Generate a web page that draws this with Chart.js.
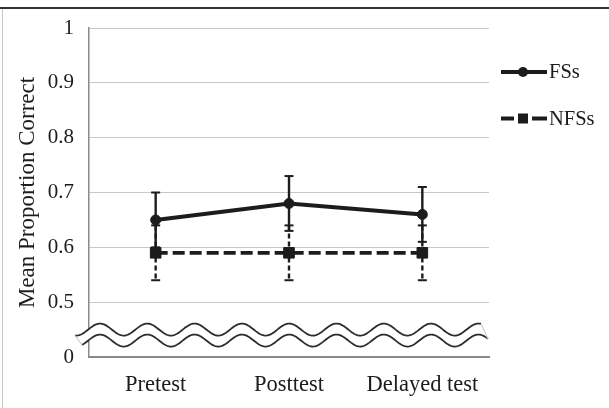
<!DOCTYPE html>
<html lang="en">
<head>
<meta charset="UTF-8">
<title>Mean Proportion Correct</title>
<script src="https://cdn.jsdelivr.net/npm/chart.js"></script>
<style>
    body { margin: 0; background: #fff; }
    .wrap { position: relative; width: 609px; height: 408px; overflow: hidden; }
    .topline { position: absolute; left: 0; right: 0; top: 7px; height: 2px; background: #333; }
    .leftline { position: absolute; left: 2px; top: 9px; bottom: 0; width: 1px; background: #c8c8c8; }
    canvas { position: absolute; left: 0; top: 0; }
</style>
</head>
<body>
<div class="wrap">
    <div class="topline"></div>
    <div class="leftline"></div>
    <canvas id="chart" width="609" height="408"></canvas>
</div>
<script>
    const tests = ['Pretest', 'Posttest', 'Delayed test'];
    const fsMeans = [0.65, 0.68, 0.66];
    const fsErr = [0.05, 0.05, 0.05];
    const nfsMeans = [0.59, 0.59, 0.59];
    const nfsErr = [0.05, 0.05, 0.05];
    const yTickValues = [0.4, 0.5, 0.6, 0.7, 0.8, 0.9, 1];
    const yTickLabels = ['0', '0.5', '0.6', '0.7', '0.8', '0.9', '1'];

    const ink = '#1c1c1c';
    const serif = "'Liberation Serif', 'Times New Roman', serif";

    // error bars, drawn under the lines and markers
    const errorBars = {
        id: 'errorBars',
        beforeDatasetsDraw(chart) {
            const ctx = chart.ctx;
            const xs = chart.scales.x, ys = chart.scales.y;
            chart.data.datasets.forEach(ds => {
                ds.errors.forEach((e, j) => {
                    const px = xs.getPixelForValue(j);
                    const top = ys.getPixelForValue(ds.data[j] + e);
                    const bot = ys.getPixelForValue(ds.data[j] - e);
                    ctx.save();
                    ctx.strokeStyle = ink;
                    ctx.lineWidth = 2.4;
                    ctx.setLineDash(ds.errDash);
                    ctx.beginPath();
                    ctx.moveTo(px, top);
                    ctx.lineTo(px, bot);
                    ctx.stroke();
                    ctx.setLineDash([]);
                    ctx.lineWidth = 2;
                    [top, bot].forEach(py => {
                        ctx.beginPath();
                        ctx.moveTo(px - 4.5, py);
                        ctx.lineTo(px + 4.5, py);
                        ctx.stroke();
                    });
                    ctx.restore();
                });
            });
        }
    };

    // wavy break between 0 and 0.5
    const axisBreak = {
        id: 'axisBreak',
        afterDraw(chart) {
            const ctx = chart.ctx, ys = chart.scales.y, area = chart.chartArea;
            const upper = ys.getPixelForValue(0.45), lower = ys.getPixelForValue(0.43);
            const amp = 6, period = 47.3, x0 = area.left + 11;
            const wave = (px, cy) => cy - amp * Math.cos(2 * Math.PI * (px - x0) / period);
            const uStart = area.left - 14, uEnd = area.right - 8;
            const lStart = area.left - 7, lEnd = area.right - 1;

            ctx.save();
            ctx.beginPath();
            ctx.moveTo(uStart, wave(uStart, upper));
            for (let px = uStart; px <= uEnd; px += 1) ctx.lineTo(px, wave(px, upper));
            ctx.lineTo(lEnd, wave(lEnd, lower));
            for (let px = lEnd; px >= lStart; px -= 1) ctx.lineTo(px, wave(px, lower));
            ctx.closePath();
            ctx.fillStyle = '#fff';
            ctx.fill();

            ctx.strokeStyle = '#2c2c2c';
            ctx.lineWidth = 1.8;
            [[uStart, uEnd, upper], [lStart, lEnd, lower]].forEach(([a, b, cy]) => {
                ctx.beginPath();
                ctx.moveTo(a, wave(a, cy));
                for (let px = a; px <= b; px += 1) ctx.lineTo(px, wave(px, cy));
                ctx.stroke();
            });

            ctx.strokeStyle = '#cfcfcf';
            ctx.lineWidth = 1.2;
            ctx.beginPath();
            ctx.moveTo(uStart, wave(uStart, upper));
            ctx.lineTo(lStart, wave(lStart, lower));
            ctx.moveTo(uEnd, wave(uEnd, upper));
            ctx.lineTo(lEnd, wave(lEnd, lower));
            ctx.stroke();
            ctx.restore();
        }
    };

    // legend at the right, line sample with the marker in the middle
    const sideLegend = {
        id: 'sideLegend',
        afterDraw(chart) {
            const ctx = chart.ctx;
            const left = chart.chartArea.right + 12, w = 46, mid = left + 22;
            chart.data.datasets.forEach((ds, i) => {
                const cy = 72 + i * 46.5;
                ctx.save();
                ctx.strokeStyle = ink;
                ctx.fillStyle = ink;
                ctx.lineWidth = 3.8;
                ctx.beginPath();
                if (ds.borderDash.length) {
                    ctx.moveTo(left, cy); ctx.lineTo(left + 13, cy);
                    ctx.moveTo(left + 31, cy); ctx.lineTo(left + w, cy);
                } else {
                    ctx.moveTo(left, cy); ctx.lineTo(left + w, cy);
                }
                ctx.stroke();
                if (ds.pointStyle === 'rect') {
                    ctx.fillRect(mid - 5, cy - 5, 10, 10);
                } else {
                    ctx.beginPath();
                    ctx.arc(mid, cy, 5, 0, Math.PI * 2);
                    ctx.fill();
                }
                ctx.font = '20.5px ' + serif;
                ctx.textBaseline = 'middle';
                ctx.fillText(ds.label, left + w + 2, cy + 1);
                ctx.restore();
            });
        }
    };

    new Chart(document.getElementById('chart'), {
        type: 'line',
        data: {
            labels: tests,
            datasets: [
                {
                    label: 'FSs', data: fsMeans, errors: fsErr, errDash: [],
                    borderColor: ink, backgroundColor: ink, borderWidth: 4, borderDash: [],
                    pointStyle: 'circle', pointRadius: 5, pointBorderWidth: 1, tension: 0
                },
                {
                    label: 'NFSs', data: nfsMeans, errors: nfsErr, errDash: [5, 3],
                    borderColor: ink, backgroundColor: ink, borderWidth: 3.8, borderDash: [12, 5],
                    pointStyle: 'rect', pointRadius: 7.5, pointBorderWidth: 1, tension: 0
                }
            ]
        },
        options: {
            responsive: false,
            animation: false,
            layout: { padding: { left: 0, right: 120, top: 28, bottom: 0 } },
            plugins: { legend: { display: false }, tooltip: { enabled: false } },
            scales: {
                x: {
                    offset: true,
                    grid: { display: false, drawTicks: false },
                    border: { display: true, color: '#8a8a8a', width: 2 },
                    ticks: { padding: 15, color: ink, font: { family: serif, size: 22.5 } },
                    afterFit(scale) { scale.height = 51; }
                },
                y: {
                    min: 0.4, max: 1,
                    afterBuildTicks(scale) { scale.ticks = yTickValues.map(v => ({ value: v })); },
                    ticks: {
                        padding: 15, color: ink, font: { family: serif, size: 21 },
                        callback: (v, i) => yTickLabels[i]
                    },
                    grid: { color: '#c8c8c8', lineWidth: 1, drawTicks: false },
                    border: { color: '#8a8a8a', width: 1.5 },
                    title: {
                        display: true, text: 'Mean Proportion Correct', color: ink,
                        font: { family: serif, size: 23 }, padding: { top: 14, bottom: 0 }
                    },
                    afterFit(scale) { scale.width = 89; }
                }
            }
        },
        plugins: [errorBars, axisBreak, sideLegend]
    });
</script>
</body>
</html>
